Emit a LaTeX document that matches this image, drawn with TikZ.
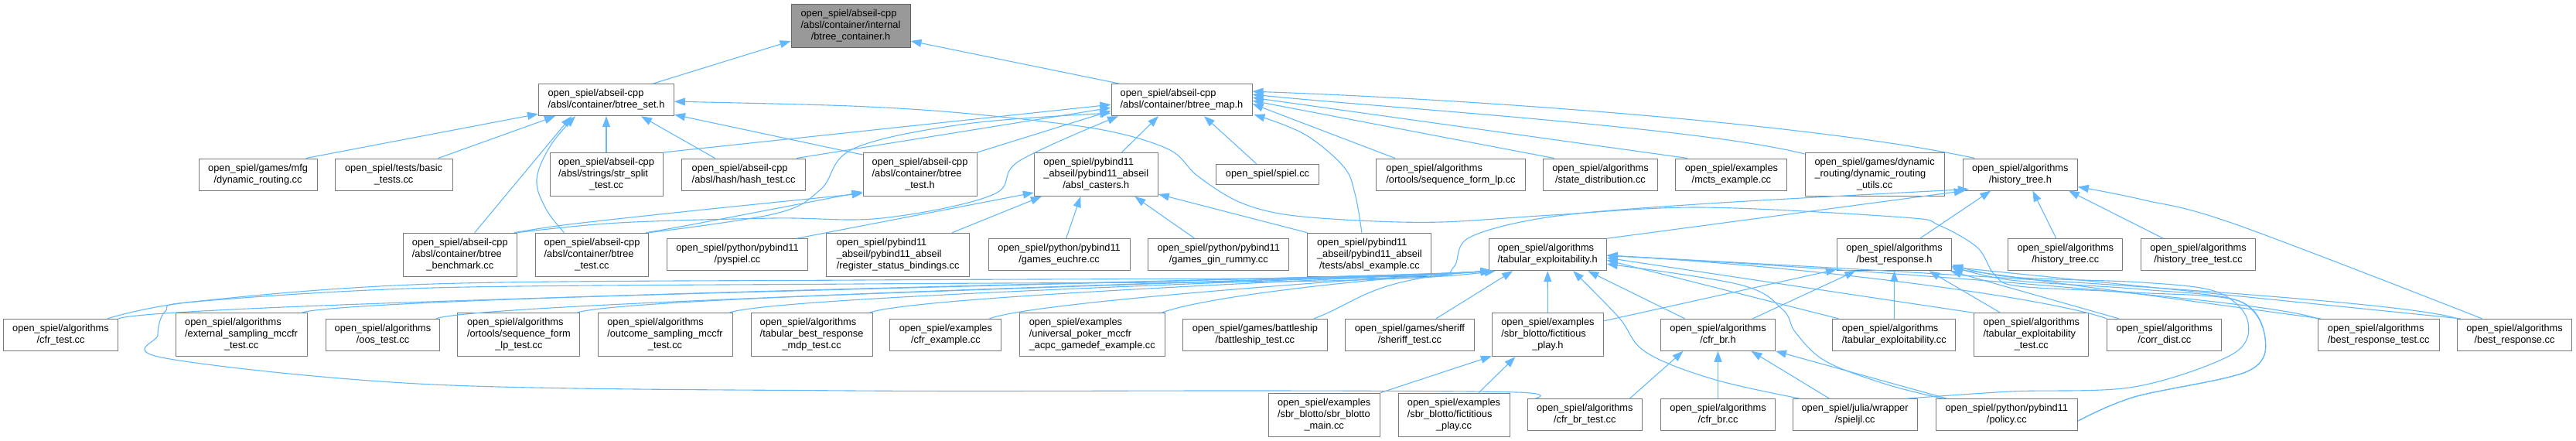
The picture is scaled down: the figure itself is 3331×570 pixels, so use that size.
\documentclass[tikz,border=0pt]{standalone}
\usepackage{fontspec}
\setmainfont{Liberation Sans}
\usetikzlibrary{arrows.meta}
\definecolor{edgec}{HTML}{63B8FF}
\definecolor{boxb}{HTML}{7A7A7A}
\definecolor{rootf}{HTML}{999999}
\definecolor{rootb}{HTML}{666666}
\newcommand{\ltwo}[2]{\begin{tabular}{@{}l@{}}#1\\\multicolumn{1}{@{}c@{}}{#2}\end{tabular}}
\newcommand{\lthree}[3]{\begin{tabular}{@{}l@{}}#1\\#2\\\multicolumn{1}{@{}c@{}}{#3}\end{tabular}}
\tikzset{
  box/.style={draw=boxb, line width=1pt, fill=white, inner sep=0pt, font=\fontsize{12.8}{15}\selectfont},
  rootbox/.style={box, draw=rootb, fill=rootf},
  edge/.style={draw=edgec, line width=1.1pt, -{Triangle[length=14pt,width=10pt]}}
}
\begin{document}
\begin{tikzpicture}[x=1pt,y=-1pt]
\useasboundingbox (0,0) rectangle (3331,570);
% ---------- nodes ----------
\node[rootbox, minimum width=154, minimum height=56] (root) at (1100,33) {\lthree{open\_spiel/abseil-cpp}{/absl/container/internal}{/btree\_container.h}};
\node[box, minimum width=175, minimum height=41] (bset) at (784,129.2) {\ltwo{open\_spiel/abseil-cpp}{/absl/container/btree\_set.h}};
\node[box, minimum width=182, minimum height=41] (bmap) at (1528,129.2) {\ltwo{open\_spiel/abseil-cpp}{/absl/container/btree\_map.h}};
\node[box, minimum width=153, minimum height=41] (mfgdr) at (333.6,225.5) {\ltwo{open\_spiel/games/mfg}{/dynamic\_routing.cc}};
\node[box, minimum width=152, minimum height=41] (basic) at (509.1,225.5) {\ltwo{open\_spiel/tests/basic}{\_tests.cc}};
\node[box, minimum width=146, minimum height=56] (strsplit) at (784,225.5) {\lthree{open\_spiel/abseil-cpp}{/absl/strings/str\_split}{\_test.cc}};
\node[box, minimum width=160, minimum height=41] (hash) at (961.6,225.5) {\ltwo{open\_spiel/abseil-cpp}{/absl/hash/hash\_test.cc}};
\node[box, minimum width=147, minimum height=56] (btreetesth) at (1189.5,225.5) {\lthree{open\_spiel/abseil-cpp}{/absl/container/btree}{\_test.h}};
\node[box, minimum width=160, minimum height=56] (casters) at (1417.3,225.5) {\lthree{open\_spiel/pybind11}{\_abseil/pybind11\_abseil}{/absl\_casters.h}};
\node[box, minimum width=133, minimum height=26] (spielcc) at (1639,225.5) {open\_spiel/spiel.cc};
\node[box, minimum width=193, minimum height=41] (seqlp) at (1876,225.5) {\ltwo{open\_spiel/algorithms}{/ortools/sequence\_form\_lp.cc}};
\node[box, minimum width=148, minimum height=41] (statedist) at (2069.5,225.5) {\ltwo{open\_spiel/algorithms}{/state\_distribution.cc}};
\node[box, minimum width=144, minimum height=41] (mcts) at (2238.9,225.5) {\ltwo{open\_spiel/examples}{/mcts\_example.cc}};
\node[box, minimum width=180, minimum height=56] (drutils) at (2424.1,225.5) {\lthree{open\_spiel/games/dynamic}{\_routing/dynamic\_routing}{\_utils.cc}};
\node[box, minimum width=148, minimum height=41] (htreeh) at (2612.3,225.5) {\ltwo{open\_spiel/algorithms}{/history\_tree.h}};
\node[box, minimum width=147, minimum height=56] (bbench) at (594.8,329.2) {\lthree{open\_spiel/abseil-cpp}{/absl/container/btree}{\_benchmark.cc}};
\node[box, minimum width=146, minimum height=56] (btestcc) at (765.5,329.2) {\lthree{open\_spiel/abseil-cpp}{/absl/container/btree}{\_test.cc}};
\node[box, minimum width=182, minimum height=41] (pyspiel) at (953.5,329.2) {\ltwo{open\_spiel/python/pybind11}{/pyspiel.cc}};
\node[box, minimum width=185, minimum height=56] (regstatus) at (1161.2,329.2) {\lthree{open\_spiel/pybind11}{\_abseil/pybind11\_abseil}{/register\_status\_bindings.cc}};
\node[box, minimum width=183, minimum height=41] (euchre) at (1369.6,329.2) {\ltwo{open\_spiel/python/pybind11}{/games\_euchre.cc}};
\node[box, minimum width=182, minimum height=41] (gin) at (1575.8,329.2) {\ltwo{open\_spiel/python/pybind11}{/games\_gin\_rummy.cc}};
\node[box, minimum width=160, minimum height=56] (abslex) at (1770.9,329.2) {\lthree{open\_spiel/pybind11}{\_abseil/pybind11\_abseil}{/tests/absl\_example.cc}};
\node[box, minimum width=152, minimum height=41] (tabexh) at (2001.2,329.2) {\ltwo{open\_spiel/algorithms}{/tabular\_exploitability.h}};
\node[box, minimum width=148, minimum height=41] (brh) at (2449.5,329.2) {\ltwo{open\_spiel/algorithms}{/best\_response.h}};
\node[box, minimum width=148, minimum height=41] (htreecc) at (2670.8,329.2) {\ltwo{open\_spiel/algorithms}{/history\_tree.cc}};
\node[box, minimum width=148, minimum height=41] (htreetest) at (2842.5,329.2) {\ltwo{open\_spiel/algorithms}{/history\_tree\_test.cc}};
\node[box, minimum width=148, minimum height=41] (cfrtest) at (78.5,432.8) {\ltwo{open\_spiel/algorithms}{/cfr\_test.cc}};
\node[box, minimum width=170, minimum height=56] (extsamp) at (312.1,432.8) {\lthree{open\_spiel/algorithms}{/external\_sampling\_mccfr}{\_test.cc}};
\node[box, minimum width=147, minimum height=41] (oos) at (495,432.8) {\ltwo{open\_spiel/algorithms}{/oos\_test.cc}};
\node[box, minimum width=158, minimum height=56] (seqlptest) at (670.9,432.8) {\lthree{open\_spiel/algorithms}{/ortools/sequence\_form}{\_lp\_test.cc}};
\node[box, minimum width=174, minimum height=56] (outsamp) at (860,432.8) {\lthree{open\_spiel/algorithms}{/outcome\_sampling\_mccfr}{\_test.cc}};
\node[box, minimum width=157, minimum height=56] (tbrmdp) at (1049.6,432.8) {\lthree{open\_spiel/algorithms}{/tabular\_best\_response}{\_mdp\_test.cc}};
\node[box, minimum width=144, minimum height=41] (cfrex) at (1222.9,432.8) {\ltwo{open\_spiel/examples}{/cfr\_example.cc}};
\node[box, minimum width=188, minimum height=56] (upoker) at (1412.3,432.8) {\lthree{open\_spiel/examples}{/universal\_poker\_mccfr}{\_acpc\_gamedef\_example.cc}};
\node[box, minimum width=187, minimum height=41] (battle) at (1622.9,432.8) {\ltwo{open\_spiel/games/battleship}{/battleship\_test.cc}};
\node[box, minimum width=167, minimum height=41] (sheriff) at (1822.9,432.8) {\ltwo{open\_spiel/games/sheriff}{/sheriff\_test.cc}};
\node[box, minimum width=144, minimum height=56] (fph) at (2001.4,432.8) {\lthree{open\_spiel/examples}{/sbr\_blotto/fictitious}{\_play.h}};
\node[box, minimum width=148, minimum height=41] (cfrbrh) at (2221.5,432.8) {\ltwo{open\_spiel/algorithms}{/cfr\_br.h}};
\node[box, minimum width=159, minimum height=41] (tabexcc) at (2449.3,432.8) {\ltwo{open\_spiel/algorithms}{/tabular\_exploitability.cc}};
\node[box, minimum width=148, minimum height=56] (tabextest) at (2626.8,432.8) {\lthree{open\_spiel/algorithms}{/tabular\_exploitability}{\_test.cc}};
\node[box, minimum width=148, minimum height=41] (corr) at (2798.8,432.8) {\ltwo{open\_spiel/algorithms}{/corr\_dist.cc}};
\node[box, minimum width=157, minimum height=41] (brtest) at (3075.7,432.8) {\ltwo{open\_spiel/algorithms}{/best\_response\_test.cc}};
\node[box, minimum width=148, minimum height=41] (brcc) at (3251.5,432.8) {\ltwo{open\_spiel/algorithms}{/best\_response.cc}};
\node[box, minimum width=144, minimum height=56] (sbrmain) at (1712.2,536.2) {\lthree{open\_spiel/examples}{/sbr\_blotto/sbr\_blotto}{\_main.cc}};
\node[box, minimum width=144, minimum height=56] (fpcc) at (1880,536.2) {\lthree{open\_spiel/examples}{/sbr\_blotto/fictitious}{\_play.cc}};
\node[box, minimum width=148, minimum height=41] (cfrbrtest) at (2049.3,536.2) {\ltwo{open\_spiel/algorithms}{/cfr\_br\_test.cc}};
\node[box, minimum width=148, minimum height=41] (cfrbrcc) at (2221.5,536.2) {\ltwo{open\_spiel/algorithms}{/cfr\_br.cc}};
\node[box, minimum width=161, minimum height=41] (spieljl) at (2398.6,536.2) {\ltwo{open\_spiel/julia/wrapper}{/spieljl.cc}};
\node[box, minimum width=183, minimum height=41] (policy) at (2594.8,536.2) {\ltwo{open\_spiel/python/pybind11}{/policy.cc}};
% ---------- edges ----------
% to root
\draw[edge] ([xshift=60pt]bset.north) -- ([yshift=-20pt]root.west);
\draw[edge] ([xshift=-80pt]bmap.north) -- ([yshift=-20pt]root.east);
% to btree_set.h
\draw[edge] ([xshift=-15pt]mfgdr.north east) -- ([yshift=3pt]bset.south west);
\draw[edge] ([xshift=-19pt]basic.north east) -- ([xshift=22pt]bset.south west);
\draw[edge] (strsplit.north) -- (bset.south);
\draw[edge] ([xshift=-37pt]hash.north) -- ([xshift=45pt]bset.south);
\draw[edge] ([yshift=-3pt]btreetesth.north west) -- ([yshift=2pt]bset.south east);
\draw[edge] ([xshift=19pt]bbench.north) -- ([xshift=-45pt]bset.south);
\draw[edge] plot[smooth, tension=0.6] coordinates {([xshift=-36pt]btestcc.north) (706,270) (694,232) (712,188) ([xshift=-40pt]bset.south)};
\draw[edge] plot[smooth, tension=0.55] coordinates {([yshift=-8pt]policy.east) (2760,513) (2906,480) (2929,437) (2895,389) (2760,378) (2611,370) (2579,355) (2557,320) (2507,291) (2462,281) (2200,268) (2007,278) (1864,287) (1757,285) (1660,277) (1600,260) (1548,227) (1511,193) (1421,167) (1254,147) (1100,137) ([yshift=-2pt]bset.east)};
% to btree_test.h
\draw[edge] plot[smooth, tension=0.5] coordinates {([xshift=-4pt]bbench.north east) (736,290) (900,272) ([yshift=4pt]btreetesth.south west)};
\draw[edge] plot[smooth, tension=0.5] coordinates {([xshift=-4pt]btestcc.north east) (896,290) ([yshift=6pt]btreetesth.south west)};
% to btree_map.h
\draw[edge] (strsplit.north east) -- ([yshift=-6pt]bmap.west);
\draw[edge] ([xshift=-12pt]hash.north east) -- ([yshift=-10pt]bmap.west);
\draw[edge] (btreetesth.north east) -- ([yshift=-14pt]bmap.west);
\draw[edge] plot[smooth, tension=0.6] coordinates {(btestcc.north east) (1003,276) (1061,245) (1104,192) (1250,160) ([yshift=4pt]bmap.south west)};
\draw[edge] plot[smooth, tension=0.6] coordinates {(bbench.north east) (800,288) (1000,282) (1140,282) (1283,252) (1318,208) ([xshift=-82pt]bmap.south)};
\draw[edge] ([xshift=33pt]casters.north) -- ([xshift=-30pt]bmap.south);
\draw[edge] ([xshift=-14pt]spielcc.north) -- ([xshift=29pt]bmap.south);
\draw[edge] plot[smooth, tension=0.6] coordinates {([xshift=-10pt]abslex.north) (1752,250) (1737,215) (1686,173) ([xshift=2pt,yshift=2pt]bmap.south east)};
\draw[edge] ([xshift=-72pt]seqlp.north) -- ([yshift=-5pt]bmap.east);
\draw[edge] ([xshift=-60pt]statedist.north) -- ([yshift=-1pt]bmap.east);
\draw[edge] ([xshift=-57pt]mcts.north) -- ([yshift=3pt]bmap.east);
\draw[edge] ([yshift=-2pt]drutils.north west) .. controls (2200,165) and (1800,140) .. ([yshift=7pt]bmap.east);
\draw[edge] ([xshift=-59pt]htreeh.north) .. controls (2350,160) and (1900,128) .. ([yshift=11pt]bmap.east);
% to absl_casters.h
\draw[edge] ([xshift=-15pt]pyspiel.north east) -- ([yshift=5pt]casters.south west);
\draw[edge] ([xshift=70pt]regstatus.north) -- ([xshift=10pt]casters.south west);
\draw[edge] ([xshift=9pt]euchre.north) -- ([xshift=-20pt]casters.south);
\draw[edge] ([xshift=-31pt]gin.north) -- ([xshift=50pt]casters.south);
\draw[edge] (abslex.north west) -- ([yshift=3pt]casters.south east);
% to tabular_exploitability.h from the left
\foreach \c/\s in {cfrtest/0,extsamp/-8,oos/-5,seqlptest/-5,outsamp/-5,tbrmdp/-5,cfrex/-16,upoker/-5,battle/-18}
  \draw[edge] ([xshift=\s pt]\c.north east) .. controls +(60,-22) and +(-160,10) .. ([xshift=4pt]tabexh.south west);
\draw[edge] plot[smooth, tension=0.55] coordinates {([xshift=10pt]cfrbrtest.north west) (1961,507) (1650,505) (1100,505) (560,497) (214,463) (204,433) (214,402) (252,390) (560,372) (1110,367) (1650,364) (1850,358) ([xshift=9pt]tabexh.south west)};
\draw[edge] ([xshift=34pt]sheriff.north) -- ([xshift=-45pt]tabexh.south);
\draw[edge] (fph.north) -- (tabexh.south);
\draw[edge] ([xshift=-43pt]cfrbrh.north) -- ([xshift=52pt]tabexh.south);
\draw[edge] plot[smooth, tension=0.6] coordinates {([xshift=10pt]spieljl.north west) (2215,490) (2128,455) (2093,410) ([xshift=33pt]tabexh.south)};
\draw[edge] plot[smooth, tension=0.6] coordinates {([xshift=10pt]policy.north west) (2440,497) (2361,467) (2322,430) (2305,400) (2250,368) ([yshift=-12pt]tabexh.east)};
% to tabular_exploitability.h from the right
\draw[edge] ([xshift=8pt]tabexcc.north west) -- ([yshift=-7pt]tabexh.east);
\draw[edge] (tabextest.north west) -- ([yshift=-4pt]tabexh.east);
\foreach \c in {corr,brtest,brcc}
  \draw[edge] (\c.north west) .. controls +(-80,-28) and +(260,14) .. ([yshift=-1pt]tabexh.east);
% to best_response.h
\draw[edge] ([yshift=18pt]fph.east) -- ([yshift=2pt]brh.south west);
\draw[edge] ([xshift=45pt]cfrbrh.north) -- ([xshift=-50pt]brh.south);
\draw[edge] (tabexcc.north) -- (brh.south);
\draw[edge] ([xshift=-40pt]tabextest.north) -- ([xshift=45pt]brh.south);
\draw[edge] ([xshift=-59pt]corr.north) -- ([xshift=-2pt]brh.south east);
\draw[edge] ([xshift=-75pt]brtest.north) -- ([yshift=3pt]brh.south east);
\draw[edge] ([xshift=-70pt]brcc.north) -- ([yshift=5pt]brh.south east);
\draw[edge] plot[smooth, tension=0.55] coordinates {([xshift=-15pt]spieljl.north east) (2600,506) (2760,500) (2888,457) (2906,413) (2866,377) (2770,365) (2600,358) ([yshift=8pt]brh.south east)};
\draw[edge] plot[smooth, tension=0.55] coordinates {([yshift=-8pt]policy.east) (2760,513) (2906,480) (2929,437) (2895,389) (2770,374) (2600,362) ([yshift=6pt]brh.south east)};
% to history_tree.h
\draw[edge] (tabexh.north east) -- ([xshift=3pt]htreeh.south west);
\draw[edge] ([xshift=33pt]brh.north) -- ([xshift=-38pt]htreeh.south);
\draw[edge] ([xshift=-12pt]htreecc.north) -- ([xshift=16pt]htreeh.south);
\draw[edge] ([xshift=-45pt]htreetest.north) -- ([xshift=-12pt]htreeh.south east);
\draw[edge] plot[smooth, tension=0.6] coordinates {([xshift=-42pt]brcc.north) (2891,290) (2770,258) ([yshift=5pt]htreeh.south east)};
\draw[edge] plot[smooth, tension=0.55] coordinates {([xshift=-14pt]cfrtest.north east) (250,390) (560,367) (1110,362) (1650,360) (1848,358) (1880,345) (1900,307) (2007,280) (2210,263) ([xshift=8pt,yshift=2pt]htreeh.south west)};
% to fictitious_play.h
\draw[edge] (sbrmain.north east) -- ([yshift=1pt]fph.south west);
\draw[edge] ([xshift=32pt]fpcc.north) -- ([xshift=-42pt]fph.south);
% to cfr_br.h
\draw[edge] ([xshift=58pt]cfrbrtest.north) -- ([xshift=-45pt]cfrbrh.south);
\draw[edge] (cfrbrcc.north) -- (cfrbrh.south);
\draw[edge] ([xshift=-33pt]spieljl.north) -- ([xshift=43pt]cfrbrh.south);
\draw[edge] ([xshift=-77pt]policy.north) -- (cfrbrh.south east);
\end{tikzpicture}
\end{document}
